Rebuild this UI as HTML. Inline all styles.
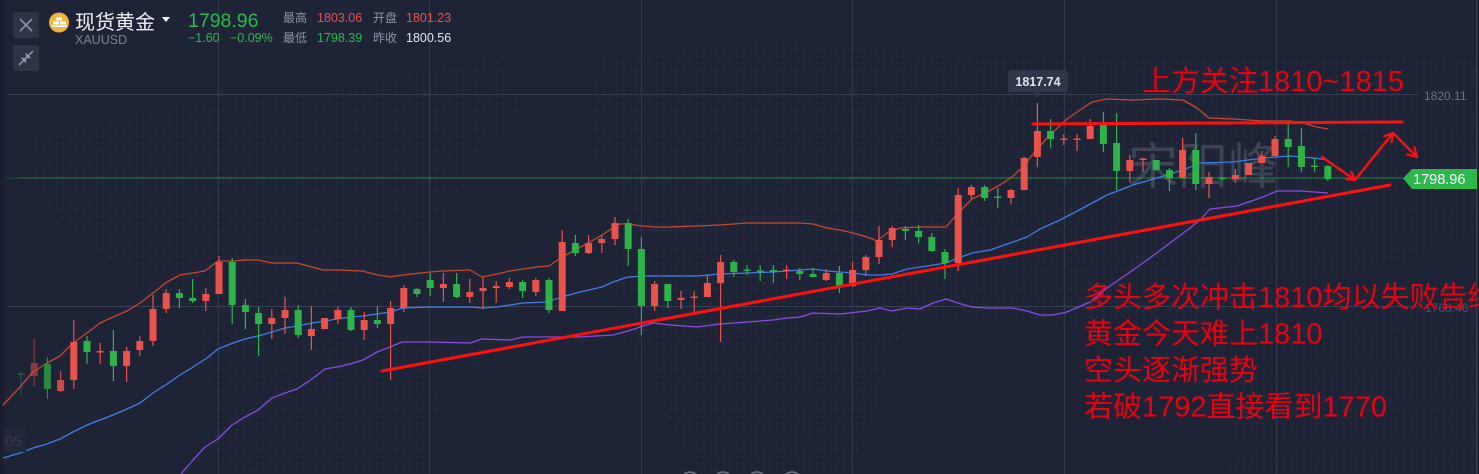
<!DOCTYPE html>
<html><head><meta charset="utf-8"><style>
html,body{margin:0;padding:0;background:#1e2336;width:1479px;height:474px;overflow:hidden}
svg{position:absolute;left:0;top:0}
text{font-family:"Liberation Sans","Noto Sans CJK SC",sans-serif}
</style></head><body>
<svg width="1479" height="474" viewBox="0 0 1479 474" xmlns="http://www.w3.org/2000/svg">
<defs>
<pattern id="dots" width="6.67" height="6.67" patternUnits="userSpaceOnUse"><circle cx="3.3" cy="3.3" r="1.1" fill="#252c40"/></pattern>
<linearGradient id="gl" x1="0" x2="1" y1="0" y2="0"><stop offset="0" stop-color="#25873b" stop-opacity="0"/><stop offset="0.02" stop-color="#25873b"/><stop offset="1" stop-color="#25873b"/></linearGradient>
</defs>
<rect width="1479" height="474" fill="#1e2336"/>
<g fill="url(#dots)">
<polygon points="30,140 150,112 300,95 500,60 520,110 470,160 450,210 420,250 380,275 300,300 230,320 160,300 100,250 40,200"/>
<polygon points="200,330 300,320 420,350 440,400 430,474 220,474 210,420"/>
<polygon points="600,60 760,40 900,50 1000,60 1479,60 1479,230 1400,260 1300,290 1200,320 1100,330 1000,320 900,320 820,280 720,260 640,230 600,180 590,120"/>
<polygon points="620,230 720,260 820,290 900,330 880,400 850,474 700,474 660,400 620,330"/>
<polygon points="1240,330 1479,300 1479,474 1230,474"/>
</g>
<rect x="0" y="0" width="4" height="474" fill="#191d2c"/>
<g stroke="#333a4d" stroke-width="1">
<line x1="218.5" y1="0" x2="218.5" y2="474"/>
<line x1="429.5" y1="0" x2="429.5" y2="474"/>
<line x1="641.5" y1="0" x2="641.5" y2="474"/>
<line x1="852.5" y1="0" x2="852.5" y2="474"/>
<line x1="1064.5" y1="0" x2="1064.5" y2="474"/>
<line x1="1276.5" y1="0" x2="1276.5" y2="474"/>
</g>
<g stroke="#394055" stroke-width="1">
<line x1="8" y1="94.5" x2="1418" y2="94.5"/>
<line x1="8" y1="306.5" x2="1418" y2="306.5"/>
</g>
<line x1="1476.5" y1="0" x2="1476.5" y2="474" stroke="#3a4052"/>
<text x="1424" y="100" font-size="12" fill="#6b7183">1820.11</text>
<text x="1425" y="312" font-size="12" fill="#4c5264">1768.46</text>
<rect x="0" y="177.5" width="1403" height="1" fill="url(#gl)"/>
<text x="1128" y="184" font-size="50" fill="#9aa0ad" fill-opacity="0.25" style="font-family:'Noto Sans CJK SC',sans-serif">宋阳峰</text>
<g fill="none" stroke-width="1.3" stroke-linejoin="round">
<polyline stroke="#c6482f" points="3,405 20,387 33,372 47,363 60,356 73,343 87,333 100,323 113,317 127,311 140,303 153,293 167,282 180,275 193,273 205,271 218,261 233,261 245,260 258,260 272,263 285,263 297,263 312,267 323,270 337,270 362,271 378,275 390,277 403,275 430,272 443,271 470,270 482,277 497,274 510,271 523,269 537,267 549,266 562,257 577,249 590,242 602,235 613,228 620,224 628,224 642,226 655,227 670,227 697,226 720,225 747,223 800,223 813,224 827,228 840,230 853,233 867,237 877,241 887,233 900,228 920,227 946,227 958,213 972,199 987,192 1000,185 1012,177 1023,167 1037,149 1050,135 1067,119 1080,110 1092,102 1107,99 1133,100 1160,99 1183,100 1197,108 1209,118 1233,119 1263,121 1290,121 1303,123 1317,127 1328,129"/>
<polyline stroke="#3e7fe6" points="3,458 20,453 33,448 47,444 60,439 73,432 87,425 100,420 113,415 127,409 140,403 153,393 167,384 180,375 193,367 207,358 218,349 233,343 245,339 258,336 272,332 285,328 297,326 312,323 325,321 337,319 350,317 363,316 377,314 390,312 403,308 430,307 470,307 482,308 497,307 523,303 547,302 562,297 580,292 602,287 613,282 628,277 647,276 670,276 697,276 720,274 747,273 773,272 800,270 813,269 827,271 840,272 853,273 867,275 880,275 892,274 907,269 927,266 946,263 958,258 972,253 990,250 1013,242 1027,237 1040,229 1060,220 1083,208 1107,195 1133,185 1157,178 1183,170 1200,163 1233,162 1263,158 1290,156 1313,158 1328,160"/>
<polyline stroke="#8a4ae4" points="181,474 193,460 205,447 218,439 232,425 245,417 258,410 272,398 285,393 297,389 312,379 325,369 337,367 350,364 363,360 377,352 390,347 402,342 430,342 470,343 482,339 510,340 523,337 550,337 580,337 613,335 628,331 640,327 653,323 670,325 697,327 720,324 747,322 773,320 787,318 800,317 813,313 840,314 867,311 880,308 892,311 907,308 920,309 933,303 946,299 958,303 972,307 987,308 1013,308 1027,311 1040,315 1053,315 1067,312 1090,302 1107,288 1123,277 1133,270 1150,258 1170,243 1190,228 1200,220 1210,209 1237,206 1263,197 1277,191 1300,191 1328,193"/>
</g>
<g fill="#2db34a" opacity="0.35"><rect x="20.4" y="371" width="1.2" height="25"/><rect x="17.5" y="373" width="7" height="2"/></g>
<g fill="#e9534b" opacity="0.5"><rect x="33.6" y="338" width="1.2" height="48"/><rect x="30.7" y="363" width="7" height="13"/></g>
<g fill="#2db34a" opacity="0.7"><rect x="46.8" y="357" width="1.2" height="42"/><rect x="43.9" y="364" width="7" height="25"/></g>
<g fill="#e9534b" opacity="0.85"><rect x="60" y="371" width="1.2" height="21"/><rect x="57.1" y="380" width="7" height="11"/></g>
<g fill="#e9534b">
<rect x="73.2" y="320" width="1.2" height="69"/><rect x="70.3" y="342" width="7" height="38"/>
<rect x="99.6" y="343" width="1.2" height="21"/><rect x="96.7" y="351" width="7" height="1.5"/>
<rect x="126" y="347" width="1.2" height="35"/><rect x="123.1" y="351" width="7" height="15"/>
<rect x="139.2" y="336" width="1.2" height="20"/><rect x="136.3" y="341" width="7" height="9"/>
<rect x="152.4" y="295" width="1.2" height="51"/><rect x="149.5" y="309" width="7" height="32"/>
<rect x="165.6" y="289" width="1.2" height="24"/><rect x="162.7" y="293" width="7" height="16"/>
<rect x="205.2" y="288" width="1.2" height="23"/><rect x="202.3" y="294" width="7" height="7"/>
<rect x="218.4" y="256" width="1.2" height="38"/><rect x="215.5" y="262" width="7" height="32"/>
<rect x="271.2" y="309" width="1.2" height="30"/><rect x="268.3" y="318" width="7" height="6"/>
<rect x="284.4" y="297" width="1.2" height="37"/><rect x="281.5" y="310" width="7" height="8"/>
<rect x="310.8" y="306" width="1.2" height="44"/><rect x="307.9" y="329" width="7" height="7"/>
<rect x="321.1" y="318" width="7" height="11"/>
<rect x="337.2" y="307" width="1.2" height="17"/><rect x="334.3" y="310" width="7" height="9"/>
<rect x="363.6" y="312" width="1.2" height="28"/><rect x="360.7" y="320" width="7" height="10"/>
<rect x="390" y="301" width="1.2" height="79"/><rect x="387.1" y="308" width="7" height="16"/>
<rect x="403.2" y="285" width="1.2" height="27"/><rect x="400.3" y="288" width="7" height="20"/>
<rect x="442.8" y="273" width="1.2" height="29"/><rect x="439.9" y="284" width="7" height="4"/>
<rect x="469.2" y="279" width="1.2" height="24"/><rect x="466.3" y="292" width="7" height="5"/>
<rect x="482.4" y="277" width="1.2" height="32"/><rect x="479.5" y="288" width="7" height="3"/>
<rect x="495.6" y="281" width="1.2" height="22"/><rect x="492.7" y="286" width="7" height="2"/>
<rect x="508.8" y="278" width="1.2" height="11"/><rect x="505.9" y="282" width="7" height="5"/>
<rect x="535.2" y="278" width="1.2" height="18"/><rect x="532.3" y="280" width="7" height="12"/>
<rect x="561.6" y="230" width="1.2" height="81"/><rect x="558.7" y="242" width="7" height="69"/>
<rect x="588" y="235" width="1.2" height="19"/><rect x="585.1" y="243" width="7" height="10"/>
<rect x="601.2" y="235" width="1.2" height="18"/><rect x="598.3" y="239" width="7" height="4"/>
<rect x="614.4" y="217" width="1.2" height="28"/><rect x="611.5" y="223" width="7" height="16"/>
<rect x="654" y="281" width="1.2" height="30"/><rect x="651.1" y="284" width="7" height="22"/>
<rect x="680.4" y="291" width="1.2" height="18"/><rect x="677.5" y="298" width="7" height="2"/>
<rect x="693.6" y="291" width="1.2" height="24"/><rect x="690.7" y="296.5" width="7" height="1.5"/>
<rect x="706.8" y="275" width="1.2" height="22"/><rect x="703.9" y="283" width="7" height="14"/>
<rect x="720" y="255" width="1.2" height="87"/><rect x="717.1" y="262" width="7" height="21"/>
<rect x="786" y="265" width="1.2" height="14"/><rect x="783.1" y="269.5" width="7" height="1.5"/>
<rect x="825.6" y="269" width="1.2" height="12"/><rect x="822.7" y="273" width="7" height="7"/>
<rect x="852" y="262" width="1.2" height="25"/><rect x="849.1" y="270" width="7" height="16"/>
<rect x="865.2" y="255" width="1.2" height="21"/><rect x="862.3" y="257" width="7" height="13"/>
<rect x="878.4" y="226" width="1.2" height="38"/><rect x="875.5" y="240" width="7" height="17"/>
<rect x="891.6" y="226" width="1.2" height="21"/><rect x="888.7" y="228" width="7" height="12"/>
<rect x="957.6" y="188" width="1.2" height="83"/><rect x="954.7" y="195" width="7" height="68"/>
<rect x="970.8" y="185" width="1.2" height="14"/><rect x="967.9" y="187" width="7" height="8"/>
<rect x="1010.4" y="189" width="1.2" height="15"/><rect x="1007.5" y="190" width="7" height="8"/>
<rect x="1023.6" y="157" width="1.2" height="33"/><rect x="1020.7" y="158" width="7" height="32"/>
<rect x="1036.8" y="103" width="1.2" height="64"/><rect x="1033.9" y="131" width="7" height="26"/>
<rect x="1063.2" y="134" width="1.2" height="11"/><rect x="1060.3" y="138.5" width="7" height="1.5"/>
<rect x="1076.4" y="134" width="1.2" height="17"/><rect x="1073.5" y="138.5" width="7" height="1.5"/>
<rect x="1089.6" y="119" width="1.2" height="20"/><rect x="1086.7" y="126" width="7" height="13"/>
<rect x="1129.2" y="155" width="1.2" height="27"/><rect x="1126.3" y="160" width="7" height="11"/>
<rect x="1142.4" y="158" width="1.2" height="14"/><rect x="1139.5" y="158.5" width="7" height="1.5"/>
<rect x="1182" y="138" width="1.2" height="40"/><rect x="1179.1" y="150" width="7" height="28"/>
<rect x="1208.4" y="172" width="1.2" height="26"/><rect x="1205.5" y="177" width="7" height="7"/>
<rect x="1234.8" y="169" width="1.2" height="14"/><rect x="1231.9" y="175" width="7" height="4"/>
<rect x="1245.1" y="163" width="7" height="12"/>
<rect x="1261.2" y="151" width="1.2" height="12"/><rect x="1258.3" y="156" width="7" height="7"/>
<rect x="1274.4" y="136" width="1.2" height="21"/><rect x="1271.5" y="139" width="7" height="17"/>
</g>
<g fill="#2db34a">
<rect x="86.4" y="336" width="1.2" height="28"/><rect x="83.5" y="341" width="7" height="11"/>
<rect x="112.8" y="330" width="1.2" height="51"/><rect x="109.9" y="351" width="7" height="15"/>
<rect x="178.8" y="289" width="1.2" height="19"/><rect x="175.9" y="293" width="7" height="5"/>
<rect x="192" y="279" width="1.2" height="24"/><rect x="189.1" y="298" width="7" height="3"/>
<rect x="231.6" y="258" width="1.2" height="66"/><rect x="228.7" y="262" width="7" height="43"/>
<rect x="244.8" y="299" width="1.2" height="30"/><rect x="241.9" y="305" width="7" height="7"/>
<rect x="258" y="307" width="1.2" height="49"/><rect x="255.1" y="313" width="7" height="11"/>
<rect x="297.6" y="305" width="1.2" height="33"/><rect x="294.7" y="310" width="7" height="25"/>
<rect x="350.4" y="307" width="1.2" height="24"/><rect x="347.5" y="310" width="7" height="20"/>
<rect x="376.8" y="306" width="1.2" height="22"/><rect x="373.9" y="320" width="7" height="4"/>
<rect x="416.4" y="288" width="1.2" height="9"/><rect x="413.5" y="289" width="7" height="5"/>
<rect x="429.6" y="273" width="1.2" height="23"/><rect x="426.7" y="280" width="7" height="8"/>
<rect x="456" y="273" width="1.2" height="25"/><rect x="453.1" y="284" width="7" height="13"/>
<rect x="522" y="280" width="1.2" height="18"/><rect x="519.1" y="282" width="7" height="9"/>
<rect x="548.4" y="278" width="1.2" height="35"/><rect x="545.5" y="280" width="7" height="30"/>
<rect x="574.8" y="235" width="1.2" height="21"/><rect x="571.9" y="243" width="7" height="10"/>
<rect x="627.6" y="219" width="1.2" height="47"/><rect x="624.7" y="223" width="7" height="26"/>
<rect x="640.8" y="237" width="1.2" height="98"/><rect x="637.9" y="249" width="7" height="57"/>
<rect x="667.2" y="284" width="1.2" height="24"/><rect x="664.3" y="284" width="7" height="17"/>
<rect x="733.2" y="260" width="1.2" height="17"/><rect x="730.3" y="262" width="7" height="10"/>
<rect x="746.4" y="265" width="1.2" height="10"/><rect x="743.5" y="269.5" width="7" height="1.5"/>
<rect x="759.6" y="265" width="1.2" height="16"/><rect x="756.7" y="270.5" width="7" height="1.5"/>
<rect x="772.8" y="265" width="1.2" height="18"/><rect x="769.9" y="270" width="7" height="1.5"/>
<rect x="799.2" y="268" width="1.2" height="12"/><rect x="796.3" y="271" width="7" height="3"/>
<rect x="812.4" y="268" width="1.2" height="9"/><rect x="809.5" y="274" width="7" height="3"/>
<rect x="838.8" y="266" width="1.2" height="27"/><rect x="835.9" y="273" width="7" height="13"/>
<rect x="904.8" y="226" width="1.2" height="14"/><rect x="901.9" y="229" width="7" height="2"/>
<rect x="918" y="225" width="1.2" height="18"/><rect x="915.1" y="231" width="7" height="6"/>
<rect x="931.2" y="233" width="1.2" height="19"/><rect x="928.3" y="237" width="7" height="14"/>
<rect x="944.4" y="249" width="1.2" height="30"/><rect x="941.5" y="252" width="7" height="11"/>
<rect x="984" y="185" width="1.2" height="16"/><rect x="981.1" y="187" width="7" height="11"/>
<rect x="997.2" y="188" width="1.2" height="20"/><rect x="994.3" y="196.5" width="7" height="1.5"/>
<rect x="1050" y="119" width="1.2" height="29"/><rect x="1047.1" y="131" width="7" height="8"/>
<rect x="1102.8" y="112" width="1.2" height="40"/><rect x="1099.9" y="125" width="7" height="19"/>
<rect x="1116" y="113" width="1.2" height="77"/><rect x="1113.1" y="143" width="7" height="28"/>
<rect x="1155.6" y="160" width="1.2" height="11"/><rect x="1152.7" y="160" width="7" height="10"/>
<rect x="1168.8" y="168" width="1.2" height="23"/><rect x="1165.9" y="170" width="7" height="8"/>
<rect x="1195.2" y="133" width="1.2" height="57"/><rect x="1192.3" y="150" width="7" height="34"/>
<rect x="1221.6" y="177" width="1.2" height="4"/><rect x="1218.7" y="177.5" width="7" height="1.5"/>
<rect x="1287.6" y="124" width="1.2" height="43"/><rect x="1284.7" y="139" width="7" height="8"/>
<rect x="1300.8" y="128" width="1.2" height="44"/><rect x="1297.9" y="146" width="7" height="21"/>
<rect x="1314" y="158" width="1.2" height="14"/><rect x="1311.1" y="165.5" width="7" height="1.5"/>
<rect x="1327.2" y="165" width="1.2" height="16"/><rect x="1324.3" y="166" width="7" height="13"/>
</g>
<g stroke="#ff1010" fill="none" stroke-linecap="round" stroke-linejoin="round">
<line x1="382" y1="371" x2="1390" y2="185" stroke-width="3"/>
<line x1="1033" y1="124" x2="1402" y2="122" stroke-width="3"/>
<polyline stroke-width="2.4" points="1322,157 1355,180 1393,133 1417,157"/>
<polyline stroke-width="2.2" points="1351.2,171.9 1355,180 1346,179.2"/>
<polyline stroke-width="2.2" points="1384.6,136.2 1393,133 1391.6,141.9"/>
<polyline stroke-width="2.2" points="1414.4,147.3 1417,157 1407.3,154.4"/>
</g>
<g fill="#ea0010" font-size="29">
<text x="1142" y="91">上方关注1810~1815</text>
<text x="1084" y="307">多头多次冲击1810均以失败告终</text>
<text x="1084" y="343.5">黄金今天难上1810</text>
<text x="1084" y="380">空头逐渐强势</text>
<text x="1084" y="416.5">若破1792直接看到1770</text>
</g>
<rect x="1008" y="70" width="60" height="22" rx="3" fill="#2f3649"/>
<polygon points="1033,92 1041,92 1037,97" fill="#2f3649"/>
<text x="1038" y="86" font-size="12.5" font-weight="bold" fill="#dfe3ea" text-anchor="middle">1817.74</text>
<polygon points="1403,178.5 1412,169 1477,169 1477,189 1412,189" fill="#2db84d"/>
<text x="1413" y="184" font-size="14.5" fill="#ffffff">1798.96</text>
<rect x="3" y="427" width="23" height="25" fill="#21273a"/>
<text x="5" y="446" font-size="15" fill="#333a4c">05</text>
<g fill="none" stroke="#6d7487" stroke-width="1.5">
<circle cx="690" cy="481" r="9"/><circle cx="723" cy="481" r="9"/><circle cx="757" cy="481" r="9"/><circle cx="792" cy="481" r="9"/>
</g>
<rect x="13" y="12" width="26" height="26" rx="2" fill="#2e3447"/>
<g stroke="#8d93a3" stroke-width="1.6"><line x1="20" y1="19" x2="32" y2="31"/><line x1="32" y1="19" x2="20" y2="31"/></g>
<rect x="13" y="45" width="26" height="26" rx="2" fill="#2e3447"/>
<g stroke="#8d93a3" stroke-width="1.6" fill="#8d93a3">
<line x1="19" y1="65" x2="24" y2="60"/><polygon points="21,58 26,58 26,63" stroke-width="0.5"/>
<line x1="33" y1="51" x2="28" y2="56"/><polygon points="26,53 26,58 31,58" stroke-width="0.5"/>
</g>
<circle cx="59" cy="22.5" r="10" fill="#eeb63a"/>
<g fill="#fff"><rect x="56" y="17.5" width="6" height="3"/><rect x="53" y="21.5" width="6" height="3"/><rect x="60" y="21.5" width="6" height="3"/><rect x="52" y="25.5" width="15" height="1.5"/></g>
<text x="75" y="29" font-size="20" fill="#f0f2f5">现货黄金</text>
<polygon points="162,17 170,17 166,22" fill="#ffffff"/>
<text x="75" y="44" font-size="12.5" fill="#7d8496">XAUUSD</text>
<text x="188" y="27" font-size="19.5" fill="#2abb4e">1798.96</text>
<text x="188" y="42" font-size="12.5" fill="#2abb4e">−1.60</text>
<text x="230" y="42" font-size="12.5" fill="#2abb4e">−0.09%</text>
<g font-size="12" fill="#8f95a3">
<text x="283" y="22">最高</text><text x="373" y="22">开盘</text>
<text x="283" y="42">最低</text><text x="373" y="42">昨收</text>
</g>
<g font-size="12.5">
<text x="317" y="22" fill="#e8524a">1803.06</text>
<text x="406" y="22" fill="#e8524a">1801.23</text>
<text x="317" y="42" fill="#2abb4e">1798.39</text>
<text x="406" y="42" fill="#e6e8ee">1800.56</text>
</g>
</svg>
</body></html>
